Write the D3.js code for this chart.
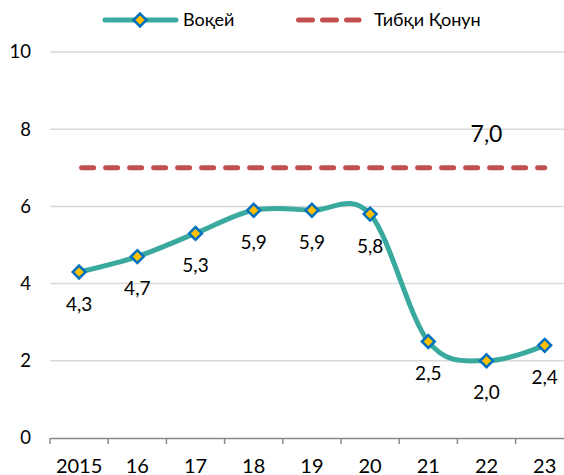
<!DOCTYPE html>
<html>
<head>
<meta charset="utf-8">
<script src="https://cdn.jsdelivr.net/npm/d3@7"></script>
<style>
  html, body { margin: 0; padding: 0; background: #fff; }
  svg { display: block; font-family: Lato, "Open Sans", sans-serif; }
</style>
</head>
<body>
<svg id="chart" width="564" height="475"></svg>
<script>
// Years on the category axis
const years = ["2015", "16", "17", "18", "19", "20", "21", "22", "23"];
// Actual values (Воқей)
const actual = [4.3, 4.7, 5.3, 5.9, 5.9, 5.8, 2.5, 2.0, 2.4];
// Legal target (Тибқи Қонун)
const target = 7.0;
const yTicks = [0, 2, 4, 6, 8, 10];
const seriesNames = ["Воқей", "Тибқи Қонун"];

const svg = d3.select("#chart");
const left = 50, bandW = 58.2;
const x = d3.scaleBand().domain(years).range([left, left + bandW * years.length]).padding(0);
const y = d3.scaleLinear().domain([0, 10]).range([438, 52]);
const cx = d => x(d) + x.bandwidth() / 2;

const teal = "#3aa99e", red = "#c0504d", blue = "#0070c0", gold = "#ffc000";

// horizontal gridlines
svg.append("g").selectAll("line").data(yTicks.filter(t => t > 0)).join("line")
  .attr("x1", left).attr("x2", 580)
  .attr("y1", d => y(d)).attr("y2", d => y(d))
  .attr("stroke", "#d9d9d9").attr("stroke-width", 1.5);

// y axis labels
svg.append("g").selectAll("text").data(yTicks).join("text")
  .attr("x", 31).attr("y", d => y(d)).attr("dy", "0.35em")
  .attr("text-anchor", "end").attr("font-size", 18.5).attr("fill", "#000")
  .text(d => d);

// x axis
const xAxis = d3.axisBottom(x).tickSize(0).tickFormat("");
const gx = svg.append("g").attr("transform", `translate(0,${y(0)})`).call(xAxis);
gx.select(".domain").attr("stroke", "#898989").attr("stroke-width", 1.5);
gx.selectAll(".tick").remove();
const edges = d3.range(years.length + 1).map(i => left + i * bandW);
gx.selectAll("line.edge").data(edges).join("line").attr("class", "edge")
  .attr("x1", d => d).attr("x2", d => d).attr("y1", 0).attr("y2", 6)
  .attr("stroke", "#898989").attr("stroke-width", 1.5);
svg.append("g").selectAll("text").data(years).join("text")
  .attr("x", d => cx(d)).attr("y", 473)
  .attr("text-anchor", "middle").attr("font-size", 20).attr("fill", "#000")
  .text(d => d);

// target dashed line
svg.append("line")
  .attr("x1", cx(years[0])).attr("x2", cx(years[years.length - 1]))
  .attr("y1", y(target)).attr("y2", y(target))
  .attr("stroke", red).attr("stroke-width", 5)
  .attr("stroke-linecap", "round").attr("stroke-dasharray", "12,12")
  .attr("stroke-dashoffset", -2.5);
svg.append("text")
  .attr("x", cx("22")).attr("y", y(target) - 34).attr("dy", "0.35em")
  .attr("text-anchor", "middle").attr("font-size", 23).attr("fill", "#000")
  .text(d3.format(".1f")(target).replace(".", ","));

// actual values: smoothed line
const pts = years.map((d, i) => [cx(d), y(actual[i])]);
svg.append("path").datum(pts)
  .attr("d", d3.line().curve(d3.curveCardinal.tension(0)))
  .attr("fill", "none").attr("stroke", teal).attr("stroke-width", 5)
  .attr("stroke-linecap", "round");

// diamond markers
const diamond = d3.symbol().type(d3.symbolDiamond2).size(105);
svg.append("g").selectAll("path").data(pts).join("path")
  .attr("transform", d => `translate(${d[0]},${d[1]})`)
  .attr("d", diamond)
  .attr("fill", gold).attr("stroke", blue).attr("stroke-width", 2.5)
  .attr("stroke-linejoin", "miter");

// data labels below markers
svg.append("g").selectAll("text").data(actual).join("text")
  .attr("x", (d, i) => cx(years[i])).attr("y", d => y(d) + 32).attr("dy", "0.35em")
  .attr("text-anchor", "middle").attr("font-size", 19).attr("fill", "#000")
  .text(d => d3.format(".1f")(d).replace(".", ","));

// legend
const lg = svg.append("g");
lg.append("line").attr("x1", 105).attr("x2", 176).attr("y1", 20).attr("y2", 20)
  .attr("stroke", teal).attr("stroke-width", 5).attr("stroke-linecap", "round");
lg.append("path").attr("transform", "translate(140,20)").attr("d", diamond)
  .attr("fill", gold).attr("stroke", blue).attr("stroke-width", 2.5);
lg.append("text").attr("x", 183).attr("y", 20).attr("dy", "0.35em")
  .attr("font-size", 18).attr("fill", "#000").text(seriesNames[0]);
lg.append("line").attr("x1", 298.5).attr("x2", 359).attr("y1", 20).attr("y2", 20)
  .attr("stroke", red).attr("stroke-width", 5).attr("stroke-linecap", "round")
  .attr("stroke-dasharray", "14,10");
lg.append("text").attr("x", 374).attr("y", 20).attr("dy", "0.35em")
  .attr("font-size", 18).attr("fill", "#000").text(seriesNames[1]);
</script>
</body>
</html>
